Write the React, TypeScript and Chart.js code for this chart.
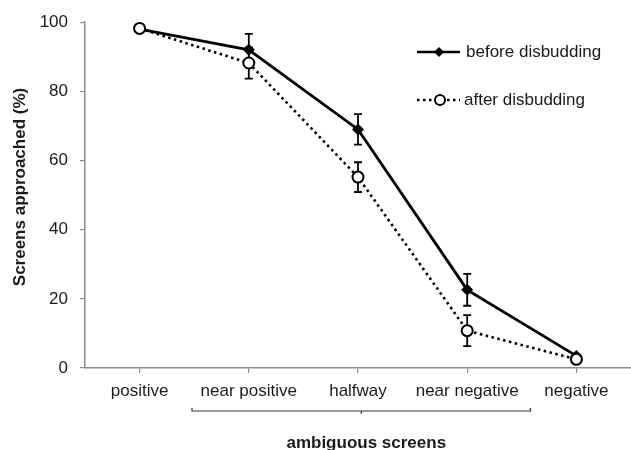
import React, { useEffect, useRef } from 'react';
import { Chart, registerables } from 'chart.js';

Chart.register(...registerables);

const categories = ['positive', 'near positive', 'halfway', 'near negative', 'negative'];
const beforeValues = [98, 92, 69, 22.6, 3.5];
const beforeErrors = [0, 4.6, 4.4, 4.6, 0];
const afterValues = [98.2, 88.2, 55.2, 10.8, 2.5];
const afterErrors = [0, 4.5, 4.3, 4.5, 0];
const yTickValues = [0, 20, 40, 60, 80, 100];
const seriesNames = ['before disbudding', 'after disbudding'];
const xTitle = 'ambiguous screens';
const yTitle = 'Screens approached (%)';

const FONT = '"Liberation Sans", Arial, Helvetica, sans-serif';
const TEXT = '#1a1a1a';
const AXIS = '#8c8c8c';

const overlay = {
  id: 'overlay',
  beforeDatasetsDraw(chart: any) {
    const ctx = chart.ctx;
    const xs = chart.scales.x;
    const ys = chart.scales.y;
    ctx.save();
    ctx.strokeStyle = '#000';
    ctx.lineWidth = 1.8;
    const draw = (vals: number[], errs: number[]) => {
      vals.forEach((v, i) => {
        const e = errs[i];
        if (!e) return;
        const px = xs.getPixelForValue(i);
        const top = ys.getPixelForValue(v + e);
        const bot = ys.getPixelForValue(v - e);
        ctx.beginPath();
        ctx.moveTo(px, top);
        ctx.lineTo(px, bot);
        ctx.moveTo(px - 4, top);
        ctx.lineTo(px + 4, top);
        ctx.moveTo(px - 4, bot);
        ctx.lineTo(px + 4, bot);
        ctx.stroke();
      });
    };
    draw(beforeValues, beforeErrors);
    draw(afterValues, afterErrors);
    ctx.restore();
  },
  afterDraw(chart: any) {
    const ctx = chart.ctx;
    const xs = chart.scales.x;
    const step = xs.getPixelForValue(1) - xs.getPixelForValue(0);
    ctx.save();

    // bracket under ambiguous categories
    const bl = xs.getPixelForValue(1) - 0.52 * step;
    const br = xs.getPixelForValue(3) + 0.58 * step;
    const by = 411;
    const bm = (bl + br) / 2;
    ctx.strokeStyle = '#333';
    ctx.lineWidth = 1.2;
    ctx.beginPath();
    ctx.moveTo(bl, by - 3);
    ctx.lineTo(bl, by);
    ctx.lineTo(br, by);
    ctx.lineTo(br, by - 3);
    ctx.moveTo(bm, by);
    ctx.lineTo(bm, by + 3);
    ctx.stroke();

    // x title
    ctx.fillStyle = TEXT;
    ctx.font = `bold 17px ${FONT}`;
    ctx.textAlign = 'center';
    ctx.textBaseline = 'middle';
    ctx.fillText(xTitle, bm + 5, 443);

    // y title
    ctx.save();
    ctx.translate(20, 187);
    ctx.rotate(-Math.PI / 2);
    ctx.fillText(yTitle, 0, 0);
    ctx.restore();

    // legend
    const lx0 = 417;
    const lx1 = 460;
    const ly = [52, 100];
    ctx.strokeStyle = '#000';
    ctx.lineWidth = 2.5;
    ctx.beginPath();
    ctx.moveTo(lx0, ly[0]);
    ctx.lineTo(lx1, ly[0]);
    ctx.stroke();
    ctx.fillStyle = '#000';
    ctx.beginPath();
    ctx.moveTo(439, ly[0] - 5);
    ctx.lineTo(444, ly[0]);
    ctx.lineTo(439, ly[0] + 5);
    ctx.lineTo(434, ly[0]);
    ctx.closePath();
    ctx.fill();

    ctx.setLineDash([2.5, 3.5]);
    ctx.beginPath();
    ctx.moveTo(lx0, ly[1]);
    ctx.lineTo(lx1, ly[1]);
    ctx.stroke();
    ctx.setLineDash([]);
    ctx.fillStyle = '#fff';
    ctx.lineWidth = 2;
    ctx.beginPath();
    ctx.arc(440, ly[1], 5, 0, Math.PI * 2);
    ctx.fill();
    ctx.stroke();

    ctx.fillStyle = TEXT;
    ctx.font = `17px ${FONT}`;
    ctx.textAlign = 'left';
    ctx.fillText(seriesNames[0], 466, ly[0]);
    ctx.fillText(seriesNames[1], 464, ly[1]);
    ctx.restore();
  },
};

export default function App() {
  const ref = useRef<HTMLCanvasElement>(null);
  useEffect(() => {
    document.body.style.margin = '0';
    const canvas = ref.current;
    if (!canvas) return;
    const chart = new Chart(canvas, {
      type: 'line',
      data: {
        labels: categories,
        datasets: [
          {
            label: seriesNames[1],
            data: afterValues,
            borderColor: '#000',
            borderWidth: 2.6,
            borderDash: [2.5, 3.5],
            pointStyle: 'circle',
            pointRadius: 5.5,
            pointBorderWidth: 2,
            pointBackgroundColor: '#fff',
            pointBorderColor: '#000',
            tension: 0,
            clip: false,
            order: 0,
          },
          {
            label: seriesNames[0],
            data: beforeValues,
            borderColor: '#000',
            borderWidth: 2.8,
            pointStyle: 'rectRot',
            pointRadius: 6,
            pointBorderWidth: 0,
            pointBackgroundColor: '#000',
            pointBorderColor: '#000',
            tension: 0,
            clip: false,
            order: 1,
          },
        ],
      },
      options: {
        responsive: false,
        animation: false,
        layout: { autoPadding: false, padding: { top: 22, right: -2, left: 0, bottom: 0 } },
        plugins: { legend: { display: false }, tooltip: { enabled: false } },
        scales: {
          x: {
            type: 'category',
            offset: true,
            grid: { offset: false, drawOnChartArea: false, drawTicks: true, tickLength: 5, color: AXIS, lineWidth: 1.2 },
            border: { color: AXIS, width: 1.5 },
            ticks: { color: TEXT, font: { family: FONT, size: 17 }, padding: 8, maxRotation: 0, autoSkip: false },
            afterFit: (s: any) => {
              s.height = 82;
              s.paddingLeft = 0;
              s.paddingRight = 0;
            },
          },
          y: {
            min: 0,
            max: 100,
            afterBuildTicks: (s: any) => { s.ticks = yTickValues.map((v) => ({ value: v })); },
            grid: { drawOnChartArea: false, drawTicks: true, tickLength: 5, color: AXIS, lineWidth: 1.2 },
            border: { color: AXIS, width: 1.5 },
            ticks: { color: TEXT, font: { family: FONT, size: 17 }, padding: 12 },
            afterFit: (s: any) => { s.width = 85; },
          },
        },
      },
      plugins: [overlay],
    });
    return () => chart.destroy();
  }, []);
  return (
    <div style={{ width: 631, height: 450 }}>
      <canvas ref={ref} width={631} height={450} style={{ display: 'block' }} />
    </div>
  );
}
